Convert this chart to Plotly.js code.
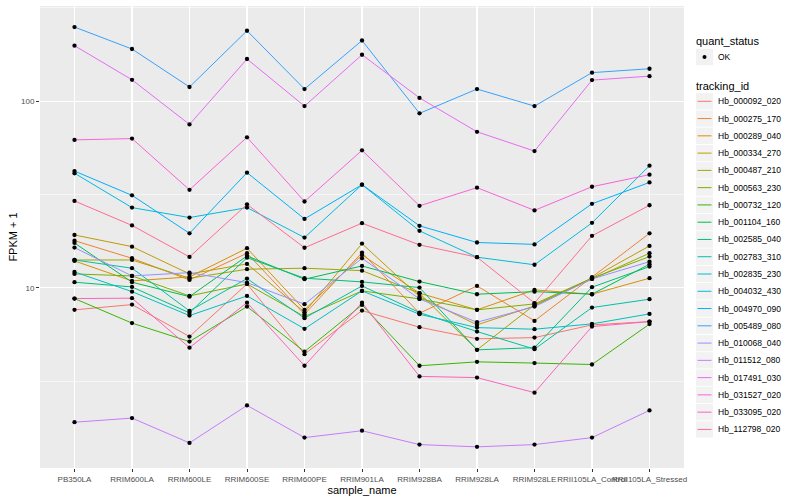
<!DOCTYPE html>
<html>
<head>
<meta charset="utf-8">
<script src="https://cdn.plot.ly/plotly-3.0.1.min.js"></script>
<style>html,body{margin:0;padding:0;background:#fff;}</style>
</head>
<body>
<div id="chart" style="width:800px;height:500px;"></div>
<script>
// ---- categories ----
const samples = ["PB350LA","RRIM600LA","RRIM600LE","RRIM600SE","RRIM600PE","RRIM901LA",
                 "RRIM928BA","RRIM928LA","RRIM928LE","RRII105LA_Control","RRII105LA_Stressed"];
const tracking_ids = ["Hb_000092_020","Hb_000275_170","Hb_000289_040","Hb_000334_270","Hb_000487_210",
  "Hb_000563_230","Hb_000732_120","Hb_001104_160","Hb_002585_040","Hb_002783_310","Hb_002835_230",
  "Hb_004032_430","Hb_004970_090","Hb_005489_080","Hb_010068_040","Hb_011512_080","Hb_017491_030",
  "Hb_031527_020","Hb_033095_020","Hb_112798_020"];
const quant_status = ["OK"];

// ---- series values (FPKM + 1), one per tracking_id, in sample order ----
const Hb_000092_020 = [7.63, 8.14, 5.49, 10.5, 4.42, 7.56, 6.16, 5.34, 5.42, 6.34, 6.60];
const Hb_000275_170 = [17.9, 14.41, 11.03, 15.33, 7.23, 15.45, 7.32, 10.25, 6.66, 11.41, 19.6];
const Hb_000289_040 = [13.94, 10.9, 11.45, 16.31, 7.63, 15.01, 9.37, 7.63, 9.76, 9.25, 11.27];
const Hb_000334_270 = [19.2, 16.63, 11.88, 13.44, 7.41, 17.26, 8.98, 6.34, 8.01, 11.31, 16.77];
const Hb_000487_210 = [14.11, 14.11, 11.27, 12.59, 12.75, 12.37, 9.37, 4.66, 8.11, 11.17, 15.33];
const Hb_000563_230 = [11.88, 11.59, 9.06, 10.5, 7.02, 9.64, 8.73, 7.63, 8.21, 11.27, 14.71];
const Hb_000732_120 = [8.77, 6.48, 5.16, 7.94, 4.56, 8.11, 3.83, 4.02, 3.96, 3.89, 6.40];
const Hb_001104_160 = [17.4, 10.73, 8.98, 14.83, 11.13, 13.11, 10.81, 9.25, 9.55, 9.25, 13.39];
const Hb_002585_040 = [10.73, 10.12, 7.35, 14.52, 11.27, 10.77, 10.04, 4.66, 4.79, 10.09, 13.0];
const Hb_002783_310 = [14.11, 12.75, 7.53, 11.22, 6.89, 10.25, 7.38, 5.84, 4.70, 7.85, 8.70];
const Hb_002835_230 = [12.18, 9.55, 7.11, 9.06, 6.04, 9.64, 7.23, 6.13, 6.01, 6.42, 7.26];
const Hb_004032_430 = [41.1, 26.9, 23.8, 26.9, 18.6, 35.7, 20.2, 14.6, 13.3, 22.3, 45.1];
const Hb_004970_090 = [42.2, 31.3, 19.6, 41.4, 23.4, 35.7, 21.5, 17.5, 17.1, 28.2, 36.7];
const Hb_005489_080 = [249, 190, 119, 238, 116, 211, 86, 116, 94, 142, 149];
const Hb_010068_040 = [16.43, 11.59, 12.07, 10.67, 8.18, 14.41, 8.73, 6.55, 7.94, 11.17, 13.82];
const Hb_011512_080 = [1.91, 2.01, 1.48, 2.35, 1.58, 1.72, 1.45, 1.41, 1.45, 1.58, 2.21];
const Hb_017491_030 = [198, 130, 75, 168, 94, 177, 104, 68.5, 54, 129.5, 136];
const Hb_031527_020 = [62, 63, 33.5, 64, 29, 54.5, 27.5, 34.4, 26, 34.8, 40.4];
const Hb_033095_020 = [8.77, 8.81, 4.79, 8.34, 3.83, 8.34, 3.36, 3.31, 2.75, 6.21, 6.60];
const Hb_112798_020 = [29.2, 21.6, 14.65, 28, 16.4, 22.2, 17, 14.6, 8.3, 19, 27.7];

const seriesValues = [Hb_000092_020, Hb_000275_170, Hb_000289_040, Hb_000334_270, Hb_000487_210,
  Hb_000563_230, Hb_000732_120, Hb_001104_160, Hb_002585_040, Hb_002783_310, Hb_002835_230,
  Hb_004032_430, Hb_004970_090, Hb_005489_080, Hb_010068_040, Hb_011512_080, Hb_017491_030,
  Hb_031527_020, Hb_033095_020, Hb_112798_020];

// ggplot2 default hue palette for 20 levels (style)
const palette = ["#F8766D","#EA8331","#D89000","#C09B00","#A3A500","#7CAE00","#39B600","#00BB4E",
  "#00BF7D","#00C1A3","#00BFC4","#00BAE0","#00B0F6","#35A2FF","#9590FF","#C77CFF","#E76BF3",
  "#FA62DB","#FF62BC","#FF6C91"];

const traces = [];
tracking_ids.forEach((id, i) => {
  traces.push({
    type: 'scatter', mode: 'lines', name: id,
    x: samples, y: seriesValues[i],
    line: {color: palette[i], width: 1},
    showlegend: false, hoverinfo: 'skip'
  });
});
// all points (quant_status = OK) drawn on top of the lines
const allX = [], allY = [];
seriesValues.forEach(vals => vals.forEach((v, j) => { allX.push(samples[j]); allY.push(v); }));
traces.push({
  type: 'scatter', mode: 'markers', name: quant_status[0],
  x: allX, y: allY,
  marker: {color: 'black', size: 4.3},
  showlegend: false, hoverinfo: 'skip'
});

// ---- ggplot-like legend drawn in the right margin (paper coordinates) ----
const M = {l: 40, r: 116, t: 6, b: 32}, W = 800, H = 500;
const pw = W - M.l - M.r, ph = H - M.t - M.b;
const PX = px => (px - M.l) / pw;          // page px -> paper x
const PY = py => (H - M.b - py) / ph;      // page px -> paper y
const annotations = [], shapes = [];
const keyL = 696, keyR = 713, keyH = 16.4, textX = 716.5, txtFont = {size: 8.5, color: 'black'};
function title(txt, py) {
  annotations.push({xref: 'paper', yref: 'paper', x: PX(695), y: PY(py), xanchor: 'left', yanchor: 'middle',
    text: txt, showarrow: false, font: {size: 11, color: 'black'}, borderpad: 0});
}
function keyBox(cy) {
  shapes.push({type: 'rect', xref: 'paper', yref: 'paper', x0: PX(keyL), x1: PX(keyR),
    y0: PY(cy - keyH / 2), y1: PY(cy + keyH / 2), fillcolor: '#F2F2F2', line: {width: 0}, layer: 'above'});
}
function label(txt, cy) {
  annotations.push({xref: 'paper', yref: 'paper', x: PX(textX), y: PY(cy), xanchor: 'left', yanchor: 'middle',
    text: txt, showarrow: false, font: txtFont, borderpad: 0});
}
title('quant_status', 41);
keyBox(57);
shapes.push({type: 'circle', xref: 'paper', yref: 'paper', x0: PX(702.5), x1: PX(706.5),
  y0: PY(59), y1: PY(55), fillcolor: 'black', line: {width: 0}, layer: 'above'});
label(quant_status[0], 57);
title('tracking_id', 86);
tracking_ids.forEach((id, i) => {
  const cy = 101.3 + i * 17.27;
  keyBox(cy);
  shapes.push({type: 'line', xref: 'paper', yref: 'paper', x0: PX(697.5), x1: PX(711.5),
    y0: PY(cy), y1: PY(cy), line: {color: palette[i], width: 1}, layer: 'above'});
  label(id, cy);
});

const layout = {
  width: W, height: H,
  margin: M,
  paper_bgcolor: 'white', plot_bgcolor: '#EBEBEB',
  font: {family: 'Liberation Sans, Arial, sans-serif', size: 8, color: '#4D4D4D'},
  showlegend: false,
  annotations: annotations, shapes: shapes,
  xaxis: {
    type: 'category', categoryorder: 'array', categoryarray: samples,
    tickmode: 'array', tickvals: samples, ticktext: samples,
    range: [-0.6, 10.6], tickangle: 0,
    showgrid: true, gridcolor: 'white', gridwidth: 1.07, zeroline: false, showline: false,
    ticks: 'outside', ticklen: 3, tickcolor: '#333333', tickwidth: 1,
    tickfont: {size: 8, color: '#4D4D4D'},
    title: {text: 'sample_name', font: {size: 11, color: 'black'}, standoff: 3}
  },
  yaxis: {
    type: 'log', range: [0.036, 2.509],
    tickmode: 'array', tickvals: [10, 100], ticktext: ['10', '100'],
    showgrid: true, gridcolor: 'white', gridwidth: 1.07, zeroline: false, showline: false,
    minor: {tickmode: 'array', tickvals: [Math.sqrt(10), Math.sqrt(1000), Math.sqrt(100000)],
            showgrid: true, gridcolor: 'white', gridwidth: 0.53, ticks: ''},
    ticks: 'outside', ticklen: 3, tickcolor: '#333333', tickwidth: 1,
    tickfont: {size: 8, color: '#4D4D4D'},
    title: {text: 'FPKM + 1', font: {size: 11, color: 'black'}, standoff: 1}
  }
};

Plotly.newPlot('chart', traces, layout, {staticPlot: true, displayModeBar: false});
</script>
</body>
</html>
